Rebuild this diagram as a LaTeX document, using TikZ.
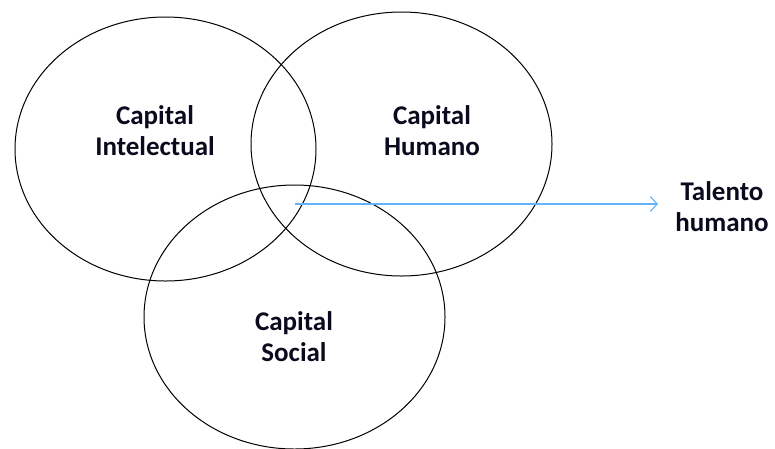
\documentclass[tikz,border=0pt]{standalone}
\usepackage{fontspec}
\setmainfont{Carlito}
\usetikzlibrary{shapes.geometric,arrows.meta}
\tikzset{
  set/.style={ellipse, draw=black, line width=1pt, minimum width=301pt, minimum height=264pt, inner sep=0pt},
  lbl/.style={font=\fontsize{27}{31}\selectfont\bfseries, align=center, text={rgb,255:red,10;green,10;blue,30}, inner sep=0pt},
  link/.style={draw={rgb,255:red,100;green,178;blue,250}, line width=1.1pt, -{Straight Barb[length=7pt,width=15pt]}}
}
\begin{document}
\begin{tikzpicture}[x=1pt,y=-1pt]
\useasboundingbox (0,0) rectangle (775,448);
\node[set] (intel) at (165.5,149) {};
\node[set] (hum) at (401.5,144) {};
\node[set] (soc) at (294.5,317) {};
\node[lbl] (tintel) at (155,131) {Capital\\Intelectual};
\node[lbl] (thum) at (432,131) {Capital\\Humano};
\node[lbl] (tsoc) at (294,337) {Capital\\Social};
\node[lbl] (tal) at (722,207) {Talento\\humano};
\coordinate (core) at (295,204);
\coordinate (tip) at (658,204);
\draw[link] (core) -- (tip);
\end{tikzpicture}
\end{document}
